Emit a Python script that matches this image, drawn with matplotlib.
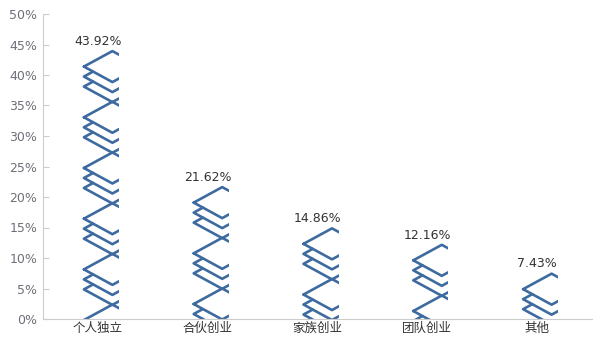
import numpy as np
import matplotlib
matplotlib.use("Agg")
import matplotlib.pyplot as plt
from matplotlib.patches import Rectangle

plt.rcParams["font.family"] = ["DejaVu Sans"]

categories = ["个人独立", "合伙创业", "家族创业", "团队创业", "其他"]
shares = [43.92, 21.62, 14.86, 12.16, 7.43]
y_ticks = [0, 5, 10, 15, 20, 25, 30, 35, 40, 45, 50]

LINE_COLOR = "#3e6b9f"
AXIS_COLOR = "#cccccc"

# repeated "layers" symbol, sizes in pixels (dy grows downward)
HALF_W = 28.5      # left vertex -> top vertex, horizontal
RISE = 15.5        # left vertex -> top vertex, vertical
GAP = 10.0         # vertical gap between stacked layers
PERIOD = 50.7      # vertical repeat of the symbol
ANCHOR = 14.5      # top vertex offset to the right of the category centre
CLIP_LEFT = 3.0
CLIP_RIGHT = 6.5
CLIP_TOP = 3.0

W_PX, H_PX, DPI = 605, 340, 100
AX_L, AX_R, AX_T, AX_B = 43, 592, 14, 319

fig = plt.figure(figsize=(W_PX / DPI, H_PX / DPI), dpi=DPI)
ax = fig.add_axes([AX_L / W_PX, (H_PX - AX_B) / H_PX,
                   (AX_R - AX_L) / W_PX, (AX_B - AX_T) / H_PX])
n = len(categories)
ax.set_xlim(-0.5, n - 0.5)
ax.set_ylim(0, 50)
ppx = (AX_R - AX_L) / n
ppy = (AX_B - AX_T) / 50.0


def layer_symbol():
    s = RISE / HALF_W
    parts = [[(-HALF_W, RISE), (0, 0), (HALF_W, RISE), (0, 2 * RISE), (-HALF_W, RISE)]]
    d = GAP / (2 * s)
    for k in (1, 2):
        parts.append([(-HALF_W + d, RISE + GAP * k - GAP / 2),
                      (-HALF_W, RISE + GAP * k),
                      (0, 2 * RISE + GAP * k),
                      (HALF_W, RISE + GAP * k),
                      (HALF_W - d, RISE + GAP * k - GAP / 2)])
    return [np.array(p, dtype=float) for p in parts]


symbol = layer_symbol()

for i, v in enumerate(shares):
    height_px = v * ppy
    clip = Rectangle((i + (ANCHOR - HALF_W - CLIP_LEFT) / ppx, 0),
                     (HALF_W + CLIP_LEFT + CLIP_RIGHT) / ppx,
                     v + CLIP_TOP / ppy, transform=ax.transData)
    reps = int(np.ceil(height_px / PERIOD)) + 1
    for j in range(reps):
        for part in symbol:
            xs = i + (ANCHOR + part[:, 0]) / ppx
            ys = v - (part[:, 1] + j * PERIOD) / ppy
            ln, = ax.plot(xs, ys, color=LINE_COLOR, lw=1.9,
                          solid_joinstyle="round", solid_capstyle="round")
            ln.set_clip_path(clip)
    ax.annotate(f"{v:.2f}%", (i, v), xytext=(0, 4.5), textcoords="offset points",
                ha="center", va="baseline", fontsize=9, color="#333333")

ax.set_xticks(range(n))
ax.set_xticklabels(categories, family=["Noto Sans CJK SC", "DejaVu Sans"],
                   fontsize=9, color="#333333")
ax.set_yticks(y_ticks)
ax.set_yticklabels([f"{t}%" for t in y_ticks], fontsize=9, color="#6e7079")
ax.tick_params(axis="x", length=0, pad=2)
ax.tick_params(axis="y", direction="in", length=4, width=0.8, color=AXIS_COLOR, pad=4)

for side in ("top", "right"):
    ax.spines[side].set_visible(False)
for side in ("left", "bottom"):
    ax.spines[side].set_color(AXIS_COLOR)
    ax.spines[side].set_linewidth(0.8)

fig.savefig("out.png", dpi=DPI)
